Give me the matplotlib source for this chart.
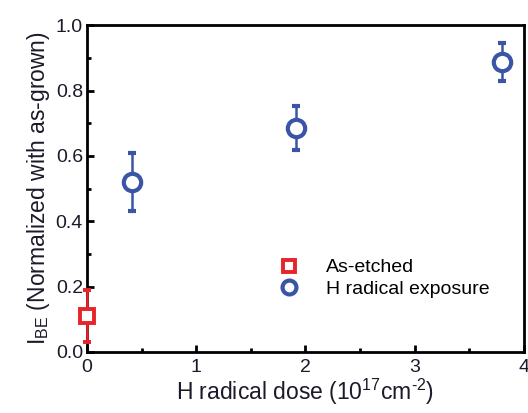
import matplotlib
matplotlib.use("Agg")
import matplotlib.pyplot as plt
from matplotlib.ticker import MultipleLocator

plt.rcParams['font.family'] = ['Liberation Sans', 'DejaVu Sans']
plt.rcParams['mathtext.fontset'] = 'custom'
plt.rcParams['mathtext.rm'] = 'Liberation Sans'
plt.rcParams['mathtext.it'] = 'Liberation Sans'
plt.rcParams['mathtext.bf'] = 'Liberation Sans'

etched_x = [0.0]
etched_y = [0.11]
etched_err = [0.08]

h_x = [0.41, 1.91, 3.80]
h_y = [0.52, 0.685, 0.888]
h_err = [0.088, 0.068, 0.058]

blue = '#3b55a6'
red = '#e8242b'
txt = '#1a1a2a'

fig = plt.figure(figsize=(5.28, 4.13), dpi=100)
ax = fig.add_axes([0.165, 0.148, 0.827, 0.791])

ax.errorbar(etched_x, etched_y, yerr=etched_err, fmt='s', ms=10, mfc='white',
            mec=red, mew=2.8, ecolor=red, elinewidth=1.8, capsize=3, capthick=1.8,
            label='As-etched', clip_on=False, zorder=5)
ax.errorbar(h_x, h_y, yerr=h_err, fmt='o', ms=12.5, mfc='white',
            mec=blue, mew=3, ecolor=blue, elinewidth=1.8, capsize=3, capthick=1.8,
            label='H radical exposure', clip_on=False, zorder=5)

ax.set_xlim(0, 4)
ax.set_ylim(0, 1.0)
ax.xaxis.set_minor_locator(MultipleLocator(0.5))
ax.yaxis.set_minor_locator(MultipleLocator(0.1))
ax.set_yticks([0, 0.2, 0.4, 0.6, 0.8, 1.0])
ax.set_yticklabels(['0.0', '0.2', '0.4', '0.6', '0.8', '1.0'])
ax.set_xticks([0, 1, 2, 3, 4])
ax.set_xticklabels(['0', '1', '2', '3', '4'])
ax.tick_params(which='both', direction='in', top=False, right=False, width=2,
               labelsize=14, labelcolor=txt)
ax.tick_params(axis='y', pad=3)
ax.tick_params(axis='x', pad=5)
ax.tick_params(which='major', length=5)
ax.tick_params(which='minor', length=3)
for s in ax.spines.values():
    s.set_linewidth(2)

ax.set_xlabel('H radical dose (10$^{17}$cm$^{\u2010 2}$)', fontsize=16.5, color=txt, labelpad=1)
ax.set_ylabel('I$_{\\mathrm{BE}}$ (Normalized with as-grown)', fontsize=16.5, color=txt, labelpad=3)

handles, labels = ax.get_legend_handles_labels()
handles = [h[0] for h in handles]
ax.legend(handles, labels, loc='upper left', bbox_to_anchor=(0.418, 0.285), frameon=False,
          fontsize=14, handletextpad=0.9, markerscale=0.8, labelspacing=0.2,
          borderaxespad=0, borderpad=0)

fig.savefig('out.png', dpi=100)
